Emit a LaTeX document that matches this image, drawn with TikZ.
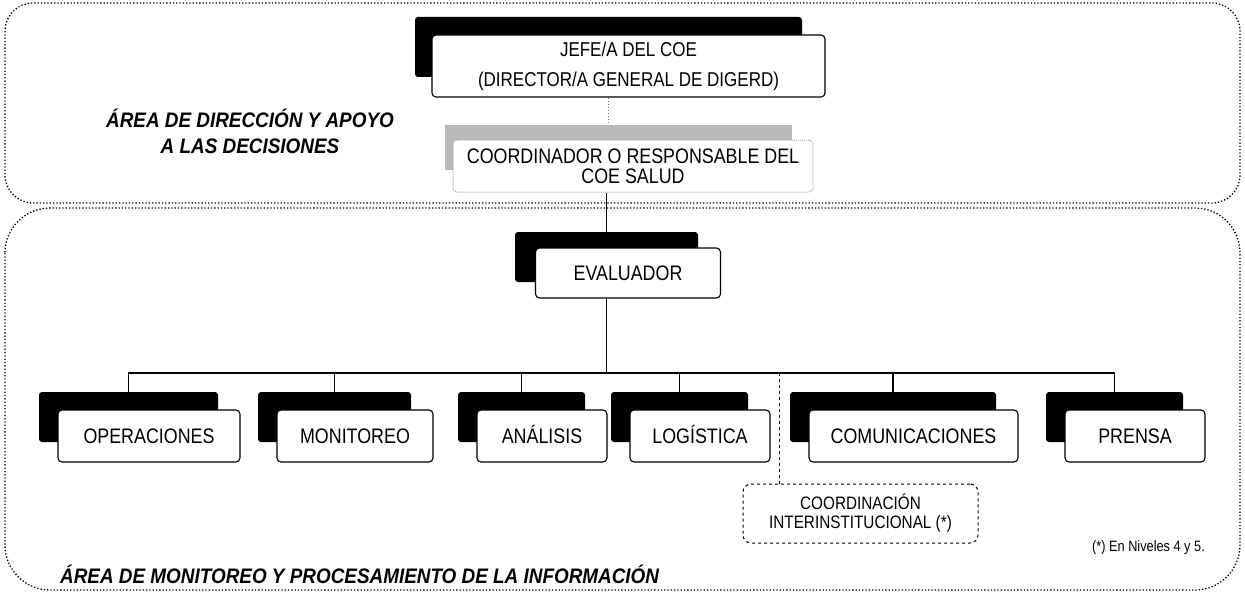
\documentclass[tikz,border=0pt]{standalone}
\usepackage{fontspec}
\setmainfont{Liberation Sans}
\newfontfamily\narrowfont{Liberation Sans}[FakeStretch=0.85]
\newfontfamily\titlefont{Liberation Sans}[FakeStretch=0.9]
\usetikzlibrary{backgrounds,calc}
\begin{document}
\begin{tikzpicture}[x=1pt,y=-1pt,
  whitebox/.style={draw=black,line width=1.1pt,fill=white,rounded corners=4pt,inner sep=0pt,font=\narrowfont\fontsize{21}{24}\selectfont},
  rowbox/.style={whitebox,text height=15pt,text depth=0pt},
  shadowbox/.style={fill=black,rounded corners=3pt,inner sep=0pt},
  conn/.style={draw=black,line width=1.1pt},
  region/.style={draw=black,dotted,line width=1.3pt},
  areatitle/.style={font=\titlefont\bfseries\itshape\fontsize{21}{26}\selectfont,align=center,inner sep=0pt}]
\useasboundingbox (0,0) rectangle (1245,594);
% regions
\draw[region,rounded corners=28pt] (5,3) rectangle (1240,203);
\draw[region,rounded corners=45pt] (5,208) rectangle (1240,590);
% JEFE
\node[shadowbox,minimum width=387,minimum height=60] (jefe-s) at (608.5,47) {};
\node[whitebox,minimum width=393,minimum height=62,align=center,font=\narrowfont\fontsize{20}{30}\selectfont] (jefe) at (628.5,66) {JEFE/A DEL COE\\(DIRECTOR/A GENERAL DE DIGERD)};
% COORDINADOR
\node[fill=gray!55,inner sep=0pt,minimum width=347,minimum height=45] (coord-s) at (618.5,147) {};
\node[draw=gray!70,densely dotted,line width=1pt,fill=white,rounded corners=4pt,inner sep=0pt,minimum width=360,minimum height=52,align=center,font=\narrowfont\fontsize{21}{20}\selectfont] (coord) at (633,166) {COORDINADOR O RESPONSABLE DEL\\COE SALUD};
% EVALUADOR
\node[shadowbox,minimum width=183,minimum height=50] (eval-s) at (606.5,257) {};
\node[rowbox,minimum width=185,minimum height=50] (eval) at (628,273) {EVALUADOR};
% row
\foreach \n/\x/\w/\t in {ops/149/182/OPERACIONES, mon/355/156/MONITOREO, ana/542/130/ANÁLISIS, log/700/140/LOGÍSTICA, com/913.5/209/COMUNICACIONES, pre/1135/140/PRENSA}{
  \node[shadowbox,minimum width=\w-3,minimum height=50] (\n-s) at (\x-20.5,417) {};
  \node[rowbox,minimum width=\w,minimum height=52] (\n) at (\x,436) {\t};
}
% coordinacion
\node[draw=black,dashed,line width=1pt,rounded corners=8pt,inner sep=0pt,minimum width=235,minimum height=59,align=center,font=\narrowfont\fontsize{18}{19}\selectfont] (cint) at (860.5,513.5) {COORDINACIÓN\\INTERINSTITUCIONAL (*)};
% connectors
\coordinate (bus) at (607,373);
\coordinate (busd) at (779,373);
\draw[gray,dotted,line width=1pt] (jefe-s.center |- jefe.south) -- (jefe-s.center |- coord-s.north);
\draw[conn] (eval-s.north |- coord.south) -- (eval-s.north);
\draw[conn] (eval-s.center |- eval.south) -- (eval-s.center |- bus);
\draw[conn] (ops-s.north) -- (ops-s.north |- bus) -- (pre-s.north |- bus) -- (pre-s.north);
\foreach \n in {mon,ana,log,com}{\draw[conn] (\n-s.north |- bus) -- (\n-s.north);}
\draw[black,dashed,line width=1pt] (busd) -- (busd |- cint.north);
% titles
\node[areatitle] (t1) at (250,131) {ÁREA DE DIRECCIÓN Y APOYO\\A LAS DECISIONES};
\node[areatitle,anchor=west] (t2) at (60,574) {ÁREA DE MONITOREO Y PROCESAMIENTO DE LA INFORMACIÓN};
\node[anchor=east,inner sep=0pt,font=\narrowfont\fontsize{15}{16}\selectfont] (nota) at (1205,548) {(*) En Niveles 4 y 5.};
\end{tikzpicture}
\end{document}
